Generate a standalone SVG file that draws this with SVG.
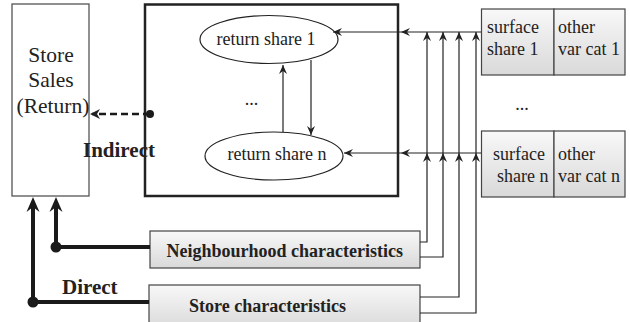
<svg xmlns="http://www.w3.org/2000/svg" width="630" height="322" viewBox="0 0 630 322">
<style>
text{font-family:"Liberation Serif","Times New Roman",serif;fill:#222}
.t18{font-size:18px}
.b{font-weight:bold}
.thin{fill:none;stroke:#222;stroke-width:1.2}
.thick{fill:none;stroke:#1a1a1a;stroke-width:4}
.gbox{fill:url(#g);stroke:#444;stroke-width:1.2}
</style>
<defs>
<linearGradient id="g" x1="0" y1="0" x2="0" y2="1">
<stop offset="0" stop-color="#f8f8f8"/>
<stop offset="1" stop-color="#d9d9d9"/>
</linearGradient>
<marker id="a" viewBox="-10 -5 10 10" refX="0" refY="0" markerWidth="10" markerHeight="10" orient="auto" markerUnits="userSpaceOnUse">
<path d="M-9,-4 L0,0 L-9,4 L-6,0 Z" fill="#222"/>
</marker>
<marker id="ad" viewBox="-11 -6 11 12" refX="-2" refY="0" markerWidth="11" markerHeight="12" orient="auto" markerUnits="userSpaceOnUse">
<path d="M-10,-5 L0,0 L-10,5 L-7,0 Z" fill="#222"/>
</marker>
<marker id="ab" viewBox="-16 -7 16 14" refX="-10" refY="0" markerWidth="16" markerHeight="14" orient="auto" markerUnits="userSpaceOnUse">
<path d="M-15,-6.5 L0,0 L-15,6.5 L-10,0 Z" fill="#1a1a1a"/>
</marker>
</defs>

<g id="store-sales">
<rect x="12" y="4" width="77" height="192" fill="#fff" stroke="#555" stroke-width="1.3"/>
<text x="51" y="62" font-size="21.5" text-anchor="middle">Store</text>
<text x="51" y="87" font-size="21.5" text-anchor="middle">Sales</text>
<text x="53" y="113" font-size="21.5" text-anchor="middle">(Return)</text>
</g>

<g id="return-model">
<rect x="145" y="4.5" width="253" height="191.5" fill="#fff" stroke="#222" stroke-width="2.5"/>
<text class="t18" x="251.5" y="105" text-anchor="middle">...</text>
</g>

<g id="return-share-1">
<ellipse cx="269" cy="39.5" rx="69" ry="24" fill="#fff" stroke="#222" stroke-width="1.2"/>
<text class="t18" x="266" y="45" text-anchor="middle">return share 1</text>
</g>

<g id="return-share-n">
<ellipse cx="274" cy="156" rx="69" ry="24" fill="#fff" stroke="#222" stroke-width="1.2"/>
<text class="t18" x="277" y="160" text-anchor="middle">return share n</text>
</g>

<g id="surface-1">
<rect class="gbox" x="481.5" y="9" width="72.5" height="66"/>
<rect class="gbox" x="554" y="9" width="71" height="66"/>
<text class="t18" x="487" y="33">surface</text>
<text class="t18" x="487" y="55">share 1</text>
<text class="t18" x="558" y="33">other</text>
<text class="t18" x="558" y="55">var cat 1</text>
</g>

<text class="t18" x="522" y="110" text-anchor="middle">...</text>

<g id="surface-n">
<rect class="gbox" x="481.5" y="131" width="72.5" height="66"/>
<rect class="gbox" x="554" y="131" width="71" height="66"/>
<text class="t18" x="493" y="160">surface</text>
<text class="t18" x="497" y="181.5">share n</text>
<text class="t18" x="558" y="160">other</text>
<text class="t18" x="558" y="181.5">var cat n</text>
</g>

<g id="neighbourhood">
<rect class="gbox" x="150" y="231" width="270" height="37"/>
<text class="t18 b" x="166.5" y="257">Neighbourhood characteristics</text>
</g>

<g id="store-characteristics">
<rect class="gbox" x="149" y="285" width="271" height="45"/>
<text class="t18 b" x="189" y="312">Store characteristics</text>
</g>

<g id="connectors">
<!-- internal ellipse links -->
<path class="thin" d="M283 132 V65" marker-end="url(#a)"/>
<path class="thin" d="M311 60 V135" marker-end="url(#a)"/>
<!-- surface to return shares -->
<path class="thin" d="M481 32 H401" marker-end="url(#a)"/>
<path class="thin" d="M401 32 H333" marker-end="url(#a)"/>
<path class="thin" d="M481 153 H401" marker-end="url(#a)"/>
<path class="thin" d="M401 153 H344" marker-end="url(#a)"/>
<!-- characteristics up to shares -->
<path class="thin" d="M420 242 H427 V153" marker-end="url(#a)"/>
<path class="thin" d="M427 153 V32" marker-end="url(#a)"/>
<path class="thin" d="M420 257 H443 V153" marker-end="url(#a)"/>
<path class="thin" d="M443 153 V32" marker-end="url(#a)"/>
<path class="thin" d="M420 297 H459 V153" marker-end="url(#a)"/>
<path class="thin" d="M459 153 V32" marker-end="url(#a)"/>
<path class="thin" d="M420 313 H476 V153" marker-end="url(#a)"/>
<path class="thin" d="M476 153 V32" marker-end="url(#a)"/>
<!-- indirect -->
<path d="M150 114 H92" fill="none" stroke="#1a1a1a" stroke-width="2.5" stroke-dasharray="7 4" marker-end="url(#ad)"/>
<circle cx="150" cy="114" r="4" fill="#1a1a1a"/>
<!-- direct -->
<path class="thick" d="M150 247 H56 V207" marker-end="url(#ab)"/>
<circle cx="56" cy="247" r="5.5" fill="#1a1a1a"/>
<path class="thick" d="M149 302 H33 V207" marker-end="url(#ab)"/>
<circle cx="33" cy="302" r="5.5" fill="#1a1a1a"/>
</g>

<text class="b" x="83" y="157" font-size="21">Indirect</text>
<text class="b" x="62" y="294" font-size="21">Direct</text>
</svg>
